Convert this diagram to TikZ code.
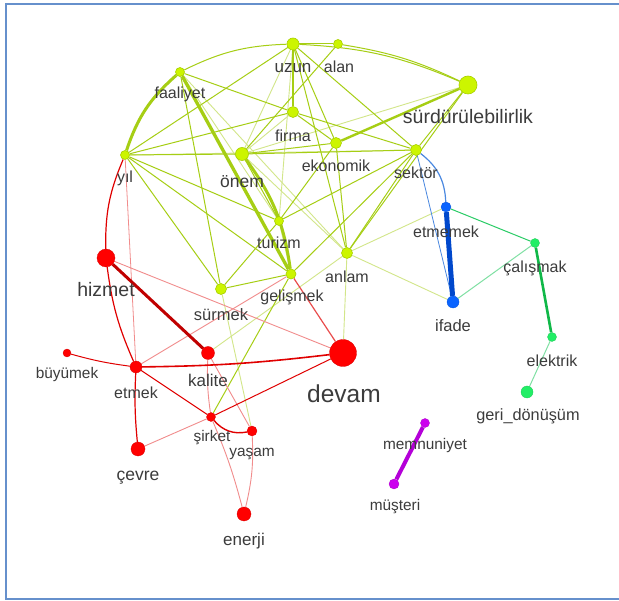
\documentclass[tikz,border=0pt]{standalone}
\usepackage{fontspec}
\setmainfont{Liberation Sans}
\pgfdeclarelayer{bg}
\pgfsetlayers{bg,main}
\definecolor{gn}{HTML}{A6CE14}
\definecolor{gnode}{HTML}{CCF500}
\definecolor{gborder}{HTML}{A8D000}
\definecolor{rd}{HTML}{E00000}
\definecolor{rdk}{HTML}{C00000}
\definecolor{rnode}{HTML}{FF0000}
\definecolor{lbl}{HTML}{3C3C3C}
\definecolor{bl}{HTML}{0048CC}
\definecolor{bll}{HTML}{4A88E0}
\definecolor{blnode}{HTML}{0A64FF}
\definecolor{sg}{HTML}{2ACC66}
\definecolor{sgd}{HTML}{10B848}
\definecolor{sgnode}{HTML}{22EE66}
\definecolor{pu}{HTML}{B400D8}
\definecolor{punode}{HTML}{CC00EE}
\definecolor{framec}{HTML}{6690CC}
\tikzset{
  vg/.style={circle, fill=gnode, draw=gborder, line width=0.6pt, inner sep=0pt, minimum size=#1},
  vr/.style={circle, fill=rnode, draw=rnode!85!black, line width=0.3pt, inner sep=0pt, minimum size=#1},
  vb/.style={circle, fill=blnode, draw=blnode!85!black, line width=0.3pt, inner sep=0pt, minimum size=#1},
  vs/.style={circle, fill=sgnode, draw=sgnode!85!black, line width=0.3pt, inner sep=0pt, minimum size=#1},
  vp/.style={circle, fill=punode, draw=punode!85!black, line width=0.3pt, inner sep=0pt, minimum size=#1},
  lb/.style={text=lbl, inner sep=0pt, font=\fontsize{#1}{#1}\selectfont},
  lb/.default=16,
  ge/.style={draw=gn, line width=1pt},
  gl/.style={draw=gn!50, line width=0.9pt},
  gt/.style={draw=gn, line width=3pt},
  re/.style={draw=rd, line width=1.2pt},
  rl/.style={draw=rd!45, line width=0.9pt},
}
\begin{document}
\begin{tikzpicture}[x=1pt,y=-1pt]
\useasboundingbox (0,0) rectangle (619,601);
% green cluster nodes
\node[vg=12] (uzun) at (293,44) {};
\node[vg=9] (alan) at (338,44) {};
\node[vg=9] (faaliyet) at (180,72) {};
\node[vg=18] (surd) at (468,85) {};
\node[vg=11] (firma) at (293,112) {};
\node[vg=11] (ekonomik) at (336,143) {};
\node[vg=9] (yil) at (125,155) {};
\node[vg=13] (onem) at (242,154) {};
\node[vg=11] (sektor) at (416,150) {};
\node[vg=9] (turizm) at (279,221) {};
\node[vg=11] (anlam) at (347,253) {};
\node[vg=10] (gelismek) at (291,274) {};
\node[vg=11] (surmek) at (221,289) {};
% red
\node[vr=18] (hizmet) at (106,258) {};
\node[vr=8] (buyumek) at (67,353) {};
\node[vr=12] (etmek) at (136,367) {};
\node[vr=13] (kalite) at (208,353) {};
\node[vr=27] (devam) at (343,353) {};
\node[vr=9] (sirket) at (211,417) {};
\node[vr=10] (yasam) at (252,431) {};
\node[vr=14] (cevre) at (138,449) {};
\node[vr=14] (enerji) at (244,514) {};
% blue
\node[vb=10] (etmemek) at (446,207) {};
\node[vb=12] (ifade) at (453,302) {};
% spring green
\node[vs=9] (calismak) at (535,243) {};
\node[vs=9] (elektrik) at (552,337) {};
\node[vs=12] (geri) at (527,392) {};
% purple
\node[vp=9] (memnuniyet) at (425,423) {};
\node[vp=10] (musteri) at (394,484) {};
\begin{pgfonlayer}{bg}
\fill[white] (0,0) rectangle (619,601);
\draw[framec, line width=2pt] (5.7,3.7) rectangle (640,598.5);
% light green
\draw[gl] (yil) -- (sektor);
\draw[gl] (uzun) -- (onem);
\draw[gl] (uzun) -- (turizm);
\draw[gl] (surd) -- (onem);
\draw[gl] (faaliyet) -- (turizm);
\draw[gl] (onem) -- (anlam);
\draw[gl] (onem) -- (firma);
\draw[gl] (anlam) -- (devam);
\draw[gl] (anlam) -- (etmemek);
\draw[gl] (anlam) -- (ifade);
\draw[gl] (kalite) -- (anlam);
\draw[gl] (surmek) -- (yasam);
\draw[gl] (turizm) -- (gelismek);
\draw[gl] (faaliyet) -- (anlam);
% medium green
\draw[ge] (uzun) to[bend right=12] (faaliyet);
\draw[ge] (uzun) to[bend left=10] (surd);
\draw[ge] (alan) to[bend left=8] (surd);
\draw[ge] (uzun) -- (alan);
\draw[ge] (faaliyet) -- (firma);
\draw[ge] (faaliyet) -- (surmek);
\draw[ge] (yil) -- (uzun);
\draw[ge] (yil) -- (firma);
\draw[ge] (yil) -- (onem);
\draw[ge] (yil) -- (turizm);
\draw[ge] (yil) -- (gelismek);
\draw[ge] (yil) -- (surmek);
\draw[ge] (onem) -- (sektor);
\draw[ge] (onem) -- (ekonomik);
\draw[ge] (firma) -- (sektor);
\draw[ge] (firma) -- (ekonomik);
\draw[ge] (sektor) -- (turizm);
\draw[ge] (sektor) -- (gelismek);
\draw[ge] (sektor) -- (anlam);
\draw[ge] (sektor) -- (surd);
\draw[ge] (surd) -- (anlam);
\draw[ge] (ekonomik) -- (anlam);
\draw[ge] (ekonomik) -- (turizm);
\draw[ge] (turizm) -- (surmek);
\draw[ge] (gelismek) -- (surmek);
\draw[ge] (gelismek) -- (sirket);
\draw[ge] (alan) -- (onem);
\draw[ge] (uzun) -- (ekonomik);
\draw[ge] (uzun) -- (sektor);
\draw[ge] (uzun) -- (anlam);
\draw[ge] (onem) -- (turizm);
% thick green
\draw[gt] (yil) to[bend left=15] (faaliyet);
\draw[gt, line width=3.3pt] (faaliyet) -- (gelismek);
\draw[gt, line width=2.6pt] (uzun) -- (firma);
\draw[gt] (onem) to[bend left=14] (gelismek);
\draw[gt, line width=2.4pt] (ekonomik) -- (surd);
% red
\draw[rl] (hizmet) -- (devam);
\draw[rl, line width=0.8pt] (yil) -- (etmek);
\draw[rl] (etmek) -- (gelismek);
\draw[rl] (kalite) to[bend right=5] (sirket);
\draw[rl] (kalite) -- (yasam);
\draw[rl] (sirket) -- (cevre);
\draw[rl] (sirket) to[bend left=4] (enerji);
\draw[rl] (yasam) to[bend left=8] (enerji);
\draw[re, draw=rd!70] (gelismek) -- (devam);
\draw[re] (yil) to[bend right=12] (hizmet);
\draw[re] (hizmet) to[bend right=8] (etmek);
\draw[re, line width=1pt] (etmek) to[bend left=4] (buyumek);
\draw[re, line width=1.6pt] (etmek) to[bend right=3] (devam);
\draw[re, line width=1pt] (etmek) -- (sirket);
\draw[re] (etmek) to[bend right=4] (cevre);
\draw[re, line width=1pt] (sirket) -- (devam);
\draw[re, line width=1.4pt] (sirket) to[bend right=30] (yasam);
\draw[draw=rdk, line width=3pt] (hizmet) -- (kalite);
% blue
\draw[bll, line width=0.8pt] (sektor) -- (ifade);
\draw[bll, line width=1.2pt] (sektor) to[bend left=25] (etmemek);
\draw[bl, line width=5pt] (etmemek) -- (ifade);
% spring green
\draw[sg, line width=1pt] (etmemek) -- (calismak);
\draw[sg!60, line width=1pt] (ifade) -- (calismak);
\draw[sgd, line width=2.6pt] (calismak) -- (elektrik);
\draw[sg!60, line width=1pt] (elektrik) -- (geri);
% purple
\draw[pu, line width=4pt] (memnuniyet) -- (musteri);
\end{pgfonlayer}
% labels
\node[lb=17] (uzun-l) at (293,68) {uzun};
\node[lb] (alan-l) at (339,67) {alan};
\node[lb] (faaliyet-l) at (180,94) {faaliyet};
\node[lb=19.5] (surd-l) at (468,117) {sürdürülebilirlik};
\node[lb] (firma-l) at (293,136) {firma};
\node[lb] (ekonomik-l) at (336,166) {ekonomik};
\node[lb=17.5] (onem-l) at (242,182) {önem};
\node[lb] (yil-l) at (125,178) {yıl};
\node[lb] (sektor-l) at (416,173) {sektör};
\node[lb] (turizm-l) at (279,243) {turizm};
\node[lb] (anlam-l) at (347,277) {anlam};
\node[lb] (gelismek-l) at (292,297) {gelişmek};
\node[lb=16.5] (surmek-l) at (221,315) {sürmek};
\node[lb=19.5] (hizmet-l) at (106,290) {hizmet};
\node[lb] (etmemek-l) at (446,232) {etmemek};
\node[lb=16.5] (ifade-l) at (453,326) {ifade};
\node[lb] (calismak-l) at (535,268) {çalışmak};
\node[lb] (elektrik-l) at (552,361) {elektrik};
\node[lb=16.3] (geri-l) at (528,416) {geri\_dönüşüm};
\node[lb=15.4] (buyumek-l) at (67,375) {büyümek};
\node[lb] (etmek-l) at (136,393) {etmek};
\node[lb=17] (kalite-l) at (208,380) {kalite};
\node[lb=24.5] (devam-l) at (344,394) {devam};
\node[lb=15.4] (sirket-l) at (212,438) {şirket};
\node[lb=15.4] (yasam-l) at (252,454) {yaşam};
\node[lb=17.5] (cevre-l) at (138,478) {çevre};
\node[lb=17] (enerji-l) at (244,541) {enerji};
\node[lb=15.4] (memnuniyet-l) at (425,446) {memnuniyet};
\node[lb=15.4] (musteri-l) at (395,507) {müşteri};
\end{tikzpicture}
\end{document}
